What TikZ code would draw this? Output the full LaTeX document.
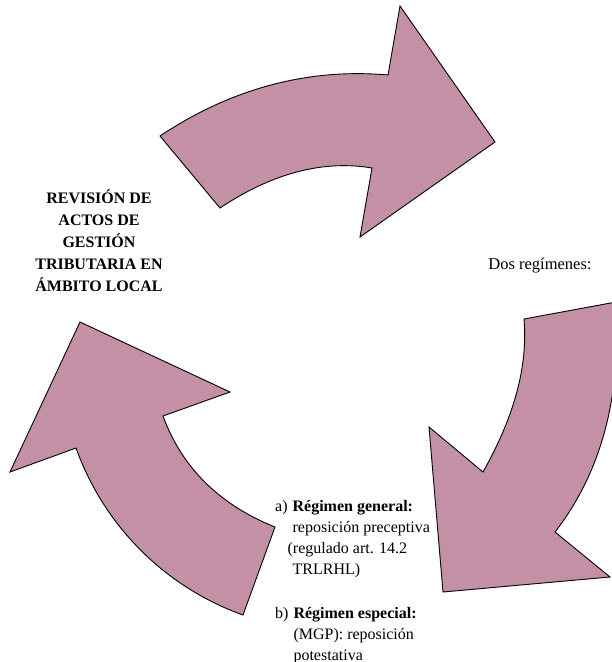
\documentclass[tikz,border=0pt]{standalone}
\usepackage{fontspec}
\setmainfont{Liberation Serif}
\definecolor{arrowpink}{RGB}{196,144,165}
\tikzset{
      bigarrow/.style={fill=arrowpink, draw=black, line width=0.9, line join=miter},
      titletext/.style={font=\bfseries\fontsize{16}{22}\selectfont, inner sep=0},
      listtext/.style={font=\fontsize{16}{21}\selectfont, inner sep=0},
}

\begin{document}
\begin{tikzpicture}[x=1pt, y=-1pt]
        \useasboundingbox (0,0) rectangle (612,662);
        \clip (0,0) rectangle (612,662);

        % Draw the arrows
        \draw[bigarrow] (160,136) .. controls (232,88) and (309,68) .. (388,75)
              -- (400,6) -- (495,142) -- (360,237) -- (372,168)
              .. controls (325,160) and (274,172) .. (220,208) -- cycle;
        \draw[bigarrow] (616,302) .. controls (622,396) and (601,473) .. (555,532)
              -- (610,577) -- (443,592) -- (429,427) -- (483,472)
              .. controls (514,417) and (528,367) .. (524,319) -- cycle;
        \draw[bigarrow] (80,322) -- (230,392) -- (163,416)
              .. controls (182,468) and (220,505) .. (275,527)
              -- (243,615)
              .. controls (165,587) and (104,526) .. (76,448)
              -- (10,472) -- cycle;

        % Texts
        \node[titletext, anchor=base] (title) at (99,203)
              {\begin{tabular}[t]{@{}c@{}}REVISIÓN DE\\ACTOS DE\\GESTIÓN\\TRIBUTARIA EN\\ÁMBITO LOCAL\end{tabular}};
        \node[listtext, anchor=base] (dos) at (540,269) {\fontsize{16.5}{21}\selectfont Dos regímenes:};
        \node[listtext, anchor=base west] (regA) at (275,511)
              {\begin{tabular}[t]{@{}l@{\hspace{5pt}}l@{}}a) & \textbf{Régimen general:}\\ & reposición preceptiva\\ & \hspace*{-5pt}(regulado art. 14.2\\ & TRLRHL)\end{tabular}};
        \node[listtext, anchor=base west] (regB) at (275,618)
              {\begin{tabular}[t]{@{}l@{\hspace{5pt}}l@{}}b) & \textbf{Régimen especial:}\\ & (MGP): reposición\\ & potestativa\end{tabular}};

\end{tikzpicture}
\end{document}
